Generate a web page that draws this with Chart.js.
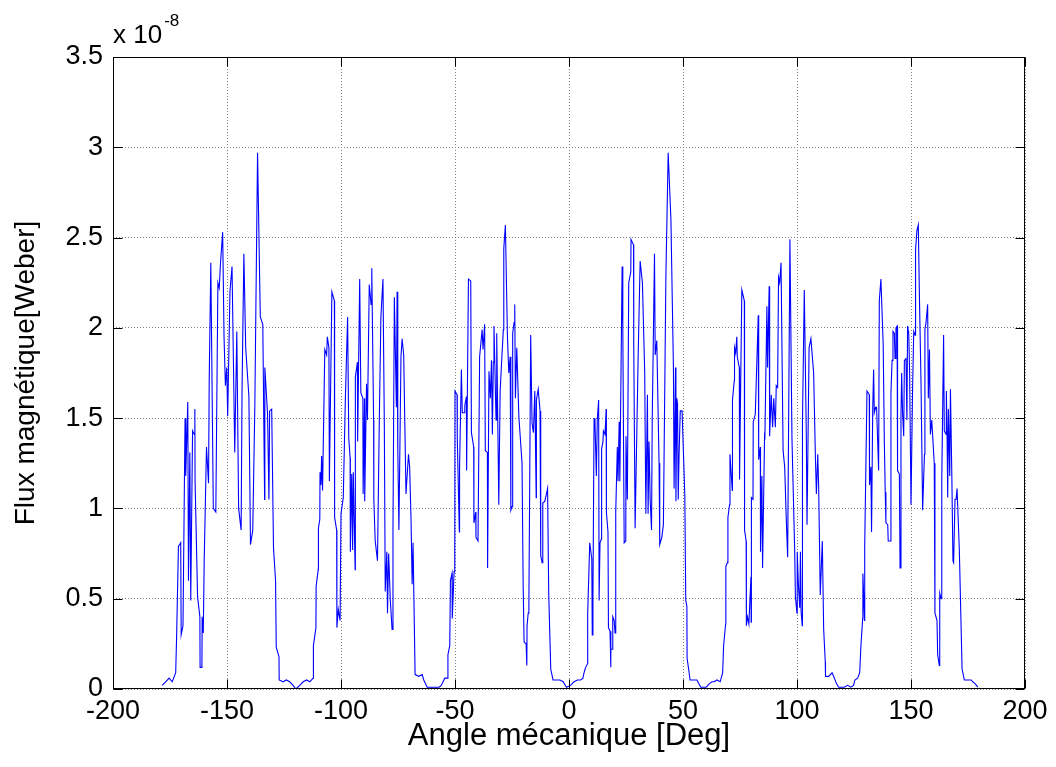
<!DOCTYPE html>
<html>
<head>
<meta charset="utf-8">
<script src="https://cdn.jsdelivr.net/npm/chart.js@4.4.0/dist/chart.umd.min.js"></script>
<style>
html,body{margin:0;padding:0;background:#fff;}
#c{display:block;}
</style>
</head>
<body>
<canvas id="c" width="1056" height="767"></canvas>
<script>
// Flux values are in units of 1e-8 Weber; angles in degrees.
const lobe1Angle = [-178.4,-176.9,-175.4,-174.0,-172.5,-172.1,-171.3,-170.3,-170.1,-169.3,-168.4,-168.1,-167.2,-166.9,-166.3,-165.9,-165.1,-164.3,-164.1,-164.0,-162.9,-161.9,-161.8,-161.0,-160.9,-160.4,-160.0,-159.0,-158.1,-157.8,-157.1,-156.0,-154.9,-154.0,-153.4,-152.9,-151.9,-151.3,-150.7,-150.1,-149.7,-148.7,-147.8,-146.6,-145.7,-144.9,-143.8,-143.4,-142.6,-141.8,-140.4,-139.7,-138.7,-137.8,-136.6,-135.4,-134.3,-133.5,-133.4,-132.2,-131.6,-131.3,-130.4,-129.6,-128.7,-128.4,-127.2,-127.1,-125.4,-124.0,-122.5,-121.0,-119.8];
const lobe1Flux  = [0.02,0.04,0.06,0.04,0.09,0.29,0.79,0.81,0.30,0.35,1.50,1.18,1.59,0.60,1.31,0.49,1.43,1.41,1.55,1.15,0.51,0.40,0.12,0.12,0.40,0.31,0.71,1.34,1.14,1.71,2.36,1.00,0.98,2.25,2.22,2.35,2.53,1.95,1.68,1.78,1.51,2.20,2.34,1.31,1.98,1.00,0.88,1.66,2.41,1.89,1.62,0.80,0.88,1.56,2.97,2.06,2.02,1.05,1.78,1.52,1.05,1.54,1.55,0.78,0.60,0.23,0.18,0.05,0.04,0.05,0.04,0.02,0.00];

const lobe2Angle = [-118.1,-116.6,-115.1,-113.7,-112.2,-112.1,-111.0,-110.9,-110.0,-109.9,-109.3,-109.2,-108.8,-108.5,-108.1,-107.1,-106.3,-106.0,-105.3,-105.1,-104.0,-102.9,-102.8,-101.9,-101.8,-101.2,-100.4,-100.0,-99.0,-98.1,-97.1,-96.6,-96.0,-95.9,-95.3,-94.9,-94.6,-93.8,-93.7,-92.8,-92.7,-91.8,-91.3,-90.4,-90.3,-89.7,-89.6,-88.8,-88.4,-87.6,-86.8,-86.5,-85.7,-85.6,-85.0,-84.0,-83.2,-82.5,-81.6,-81.0,-80.6,-79.9,-79.6,-79.1,-78.4,-77.6,-77.2,-76.6,-75.7,-75.4,-75.1,-74.6,-73.7,-73.2,-72.5,-71.5,-70.4,-69.9,-69.3,-68.8,-68.4,-67.5,-65.9,-64.4,-63.7,-62.2,-60.7,-58.5,-57.0];
const lobe2Flux  = [0.02,0.04,0.05,0.04,0.06,0.24,0.34,0.57,0.66,0.89,0.94,1.20,1.13,1.29,1.10,1.88,1.85,1.95,1.89,1.15,2.20,2.15,0.95,0.88,0.34,0.44,0.38,0.97,1.06,1.60,2.06,1.39,1.28,0.76,1.19,0.77,1.20,0.66,1.73,1.81,1.37,2.27,1.64,1.61,1.08,1.61,1.04,1.69,1.49,2.24,2.13,2.33,1.49,1.05,0.82,0.71,1.49,2.06,2.27,1.47,0.54,0.76,0.42,0.75,0.50,0.33,0.88,2.17,1.56,2.20,1.34,0.88,1.84,1.94,1.85,1.08,1.30,1.23,0.95,0.58,0.81,0.08,0.07,0.08,0.05,0.01,0.01,0.01,0.01];

const lobe3Angle = [-56.0,-54.5,-53.4,-53.1,-52.3,-52.0,-51.3,-51.2,-50.4,-50.1,-50.0,-49.1,-49.0,-48.1,-48.0,-47.2,-46.8,-45.8,-45.7,-45.0,-44.9,-44.1,-43.1,-42.8,-41.8,-41.7,-40.9,-40.8,-39.9,-39.2,-38.1,-37.7,-37.0,-36.7,-35.8,-35.7,-35.1,-34.5,-34.0,-33.6,-33.2,-32.9,-32.0,-31.7,-30.8,-30.2,-29.6,-28.8,-28.6,-27.9,-27.0,-26.4,-25.8,-25.5,-25.0,-24.7,-24.1,-23.8,-23.5,-22.9,-22.0,-20.6,-20.1,-19.7,-18.8,-18.5,-18.4,-17.9,-17.6,-16.8,-16.2,-15.6,-15.0,-14.4,-14.3,-13.5,-12.7,-12.4,-11.8,-11.5,-10.6,-9.9,-9.4,-8.9,-8.0,-7.0,-5.5,-4.0,-2.6,-1.1];
const lobe3Flux  = [0.02,0.06,0.06,0.19,0.24,0.60,0.64,0.39,0.65,0.78,1.65,1.63,1.39,0.87,1.23,1.77,1.53,1.53,1.57,1.62,1.21,2.27,2.26,1.42,1.34,0.92,0.98,0.84,0.82,1.84,1.99,1.88,2.02,1.32,1.31,0.67,1.76,1.61,1.82,1.41,1.81,2.01,1.49,1.97,1.02,1.65,1.80,1.99,2.44,2.57,1.95,1.75,1.84,0.99,1.01,1.97,2.03,2.13,1.61,1.89,1.51,1.25,0.57,0.26,0.25,0.13,0.35,0.42,0.46,1.96,1.47,1.42,1.65,1.06,1.60,1.66,1.54,0.74,0.70,1.03,1.04,1.08,1.11,0.53,0.11,0.05,0.05,0.05,0.04,0.01];

const lobe4Angle = [0.7,2.2,3.7,5.1,6.1,6.6,7.3,8.1,8.2,9.1,10.0,10.2,10.5,11.0,11.4,12.0,12.4,13.0,13.2,13.6,14.2,14.3,14.9,15.1,15.8,16.3,16.4,17.1,17.3,18.0,18.3,18.4,19.0,19.2,19.8,20.2,20.5,21.2,21.5,22.0,22.3,22.8,23.3,23.6,24.2,24.9,25.0,25.6,26.2,27.1,27.2,28.3,28.4,29.0,30.3,31.2,32.2,33.2,33.7,34.4,34.7,35.1,35.6,36.2,36.5,37.5,37.8,38.5,39.5,39.8,40.7,41.4,42.5,43.5,44.7,45.8,46.1,46.7,46.9,47.3,47.6,47.9,48.3,48.8,49.6,50.8,51.2,51.7,51.8,52.7,53.1,54.6,56.1,57.8,59.0];
const lobe4Flux  = [0.02,0.04,0.05,0.05,0.06,0.09,0.12,0.14,0.42,0.81,0.72,0.30,0.51,1.50,1.47,1.18,1.49,1.60,0.49,0.81,0.83,1.33,1.37,1.43,1.41,1.55,0.98,0.87,0.34,0.32,0.12,0.22,0.22,0.40,0.38,0.31,0.98,1.34,1.15,1.48,1.15,1.74,2.34,2.00,0.81,0.82,1.40,1.05,2.25,2.31,2.49,2.46,1.91,0.89,1.82,2.37,2.25,1.76,0.97,1.63,0.97,1.37,1.05,0.88,1.49,2.41,1.85,1.93,1.25,0.80,0.84,0.91,2.29,2.97,2.60,1.78,1.11,1.78,1.04,1.61,1.58,1.05,1.31,1.54,1.54,1.07,0.49,0.46,0.17,0.09,0.05,0.05,0.05,0.01,0.01];

const lobe5Angle = [60.2,61.6,62.7,63.7,64.9,66.3,67.4,67.8,68.7,68.8,69.5,69.7,70.4,70.6,71.6,71.7,72.5,72.6,73.1,73.6,73.8,74.7,74.8,75.8,76.9,77.0,77.7,77.8,78.3,78.9,79.8,79.9,80.0,80.7,80.8,81.7,83.0,83.2,83.9,84.0,84.6,84.9,85.8,85.9,86.8,87.1,87.8,88.0,88.7,89.3,89.8,90.5,90.9,91.5,91.9,92.4,93.0,93.9,94.6,95.3,95.9,96.9,97.8,99.0,99.3,100.0,100.1,100.6,101.2,101.5,101.8,102.3,102.4,103.2,104.1,104.4,105.3,106.1,107.3,108.1,108.5,109.1,109.5,110.2,111.1,111.7,112.4,112.5,113.9,115.4,116.4,117.3,118.3];
const lobe5Flux  = [0.01,0.03,0.04,0.04,0.05,0.04,0.09,0.24,0.36,0.68,0.70,0.95,1.02,1.30,1.10,1.60,1.71,1.89,1.86,1.95,1.84,1.78,1.16,2.21,2.15,0.88,0.82,0.35,0.40,0.36,0.62,0.37,1.06,1.05,1.48,1.52,2.07,1.27,1.34,0.76,1.18,0.67,1.42,1.38,2.12,1.78,2.23,1.40,1.63,1.45,1.61,1.45,1.68,1.67,2.28,2.25,2.36,1.32,1.23,0.94,0.73,2.49,1.38,0.76,0.51,0.42,0.76,0.58,0.45,0.76,0.43,0.35,1.48,2.21,1.39,0.91,1.89,1.94,1.75,1.27,1.08,1.30,1.12,0.52,0.82,0.33,0.15,0.07,0.07,0.09,0.06,0.03,0.01];

const lobe6Angle = [119.3,120.7,122.2,123.6,124.8,125.4,126.6,127.5,128.0,128.8,128.9,129.6,129.7,130.1,130.7,131.7,131.8,132.4,132.7,133.2,133.6,133.9,134.5,134.9,135.8,136.1,136.8,137.8,138.3,138.7,139.0,139.8,140.0,140.9,141.2,141.7,142.1,142.7,143.0,143.4,143.9,144.1,144.9,145.2,145.6,145.9,146.3,146.8,147.1,147.8,148.2,148.5,149.0,149.4,150.0,150.7,151.2,151.8,152.0,152.6,153.2,153.7,154.4,155.1,155.9,156.1,156.6,157.3,157.6,158.1,158.5,159.1,160.2,160.5,161.4,161.7,162.4,162.6,163.2,163.5,164.3,164.6,165.4,165.5,165.8,166.1,166.4,167.0,167.3,167.9,168.4,168.7,169.3,169.8,170.2,171.2,172.4,173.4,174.9,176.4,177.1,178.1,179.3];
const lobe6Flux  = [0.01,0.01,0.02,0.01,0.02,0.05,0.06,0.09,0.23,0.39,0.64,0.38,0.79,1.14,1.65,1.63,1.13,1.23,0.87,1.54,1.77,1.53,1.56,1.56,1.21,2.15,2.27,1.91,1.37,1.09,0.92,0.91,0.82,0.82,1.64,1.82,1.98,1.97,1.83,2.00,2.01,1.21,1.19,0.67,1.51,1.75,1.53,1.40,1.82,1.83,1.49,2.01,1.97,1.75,1.02,1.67,1.98,1.96,2.43,2.54,2.57,2.17,1.69,0.99,1.30,1.99,2.03,2.13,1.61,1.88,1.41,1.49,1.25,0.42,0.38,0.19,0.13,0.53,0.50,1.16,1.96,1.43,1.41,1.65,1.43,1.06,1.55,1.18,1.66,1.19,0.71,0.70,1.05,1.05,1.11,0.77,0.11,0.05,0.05,0.05,0.04,0.03,0.01];

const xTickValues = [-200,-150,-100,-50,0,50,100,150,200];
const yTickLabels = ['0','0.5','1','1.5','2','2.5','3','3.5'];
const xAxisTitle = 'Angle mécanique [Deg]';
const yAxisTitle = 'Flux magnétique[Weber]';
const exponentBase = 'x 10';
const exponentPower = '-8';

const angleDeg = [].concat(lobe1Angle, lobe2Angle, lobe3Angle, lobe4Angle, lobe5Angle, lobe6Angle);
const fluxE8 = [].concat(lobe1Flux, lobe2Flux, lobe3Flux, lobe4Flux, lobe5Flux, lobe6Flux);
const points = angleDeg.map((a, i) => ({x: a, y: fluxE8[i]}));

const FONT = '"Liberation Sans", Arial, Helvetica, sans-serif';
Chart.defaults.font.family = FONT;
Chart.defaults.color = '#000';

const matlabAxes = {
  id: 'matlabAxes',
  afterDatasetsDraw(chart) {
    const {ctx, chartArea: a, scales: {x, y}} = chart;
    ctx.save();
    ctx.strokeStyle = '#000';
    ctx.lineWidth = 1;
    ctx.setLineDash([]);
    const L = Math.round(a.left) + 0.5, R = Math.round(a.right) - 0.5;
    const T = Math.round(a.top) + 0.5, B = Math.round(a.bottom) - 0.5;
    ctx.strokeRect(L, T, R - L, B - T);
    const tl = 9;
    ctx.beginPath();
    x.ticks.forEach(t => {
      const px = Math.round(x.getPixelForValue(t.value)) + 0.5;
      ctx.moveTo(px, B); ctx.lineTo(px, B - tl);
      ctx.moveTo(px, T); ctx.lineTo(px, T + tl);
    });
    y.ticks.forEach(t => {
      const py = Math.round(y.getPixelForValue(t.value)) + 0.5;
      ctx.moveTo(L, py); ctx.lineTo(L + tl, py);
      ctx.moveTo(R, py); ctx.lineTo(R - tl, py);
    });
    ctx.stroke();
    ctx.fillStyle = '#000';
    ctx.textAlign = 'left';
    ctx.textBaseline = 'alphabetic';
    ctx.font = '26px ' + FONT;
    ctx.fillText(exponentBase, a.left, 43);
    const w = ctx.measureText(exponentBase).width;
    ctx.font = '17px ' + FONT;
    ctx.fillText(exponentPower, a.left + w + 2, 26);
    ctx.restore();
  }
};

new Chart(document.getElementById('c'), {
  type: 'line',
  data: {
    datasets: [{
      data: points,
      borderColor: '#0000ff',
      borderWidth: 1.1,
      pointRadius: 0,
      tension: 0,
      fill: false
    }]
  },
  options: {
    responsive: false,
    animation: false,
    devicePixelRatio: 1,
    layout: {padding: {top: 57, right: 31, left: 0, bottom: 0}},
    plugins: {legend: {display: false}, tooltip: {enabled: false}},
    scales: {
      x: {
        type: 'linear',
        min: -200, max: 200,
        afterBuildTicks: s => { s.ticks = xTickValues.map(v => ({value: v})); },
        afterFit: s => { s.height = 78; },
        ticks: {padding: 6, font: {size: 27}, color: '#000', maxRotation: 0, callback: v => String(v)},
        grid: {color: '#808080', lineWidth: 1, drawTicks: false},
        border: {display: false, dash: [1, 2]},
        title: {display: true, text: xAxisTitle, font: {size: 31}, color: '#000', padding: {top: 0, bottom: 12}}
      },
      y: {
        type: 'linear',
        min: 0, max: 3.5,
        ticks: {stepSize: 0.5, padding: 10, font: {size: 27}, color: '#000', callback: (v, i) => yTickLabels[i]},
        afterFit: s => { s.width = 113; },
        grid: {color: '#808080', lineWidth: 1, drawTicks: false},
        border: {display: false, dash: [1, 2]},
        title: {display: true, text: yAxisTitle, font: {size: 28}, color: '#000', padding: {top: 9, bottom: 0}}
      }
    }
  },
  plugins: [matlabAxes]
});
</script>
</body>
</html>
